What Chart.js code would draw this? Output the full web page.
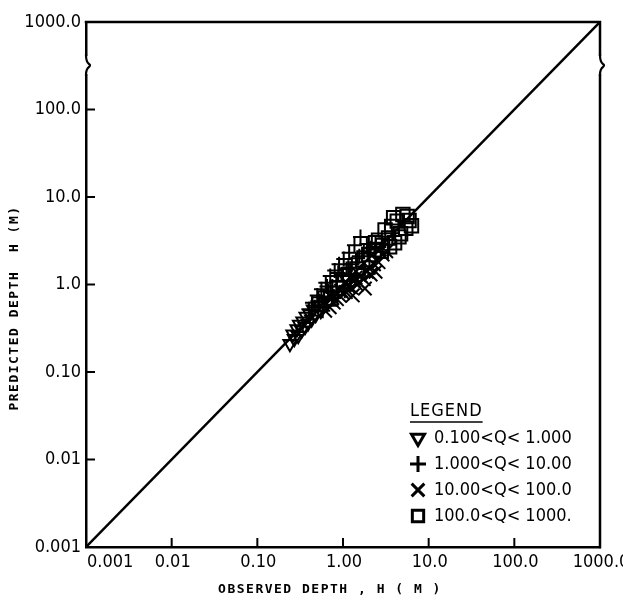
<!DOCTYPE html>
<html>
<head>
<meta charset="utf-8">
<script src="https://cdn.jsdelivr.net/npm/chart.js@4/dist/chart.umd.min.js"></script>
<style>
html,body{margin:0;padding:0;background:#fff;}
#wrap{width:623px;height:603px;position:relative;}
</style>
</head>
<body>
<div id="wrap"><canvas id="c"></canvas></div>
<script>
// ---- data ----
const tickValues = [0.001, 0.01, 0.1, 1, 10, 100, 1000];
const xTickLabels = ["0.001", "0.01", "0.10", "1.00", "10.0", "100.0", "1000.0"];
const yTickLabels = ["0.001", "0.01", "0.10", "1.0", "10.0", "100.0", "1000.0"];

const legendTitle = "LEGEND";
const seriesNames = ["0.100<Q< 1.000", "1.000<Q< 10.00", "10.00<Q< 100.0", "100.0<Q< 1000."];

// 0.100 < Q < 1.000 (triangles)
const triObs  = [0.24,0.26,0.27,0.29,0.30,0.31,0.33,0.34,0.36,0.37,0.39,0.41,0.43,0.45,0.48,0.51,0.55,0.60,0.66];
const triPred = [0.21,0.27,0.24,0.31,0.26,0.35,0.30,0.38,0.33,0.43,0.36,0.46,0.40,0.52,0.45,0.58,0.50,0.66,0.62];
// 1.000 < Q < 10.00 (plus)
const plusObs  = [0.40,0.44,0.47,0.50,0.53,0.56,0.60,0.63,0.67,0.71,0.75,0.80,0.85,0.90,0.96,1.02,1.10,1.18,1.27,1.36,1.48,1.60,1.75,1.90,2.10,2.40,0.58,0.78,1.05,1.40,1.80,0.65,0.88,1.15,1.55,2.00,0.52,0.72,1.25];
const plusPred = [0.52,0.62,0.55,0.75,0.64,0.88,0.72,1.05,0.84,1.25,0.95,1.45,1.10,1.70,1.30,1.95,1.50,2.30,1.70,2.80,2.00,3.50,2.40,2.90,2.60,3.00,0.50,0.70,0.85,1.20,1.50,0.95,1.35,1.55,2.10,2.30,0.58,0.82,1.30];
// 10.00 < Q < 100.0 (x)
const xObs  = [0.62,0.70,0.78,0.85,0.92,1.00,1.08,1.15,1.25,1.35,1.45,1.60,1.75,1.90,2.10,2.30,2.60,2.90,3.20,1.30,1.80,2.40,0.75,0.95,1.10,1.55,2.00,2.70,1.40];
const xPred = [0.50,0.55,0.62,0.68,0.74,0.80,0.82,0.95,0.92,1.10,1.00,1.25,1.15,1.40,1.30,1.70,1.80,2.20,2.40,0.75,0.90,1.40,0.70,0.85,1.05,1.05,1.55,2.50,1.20];
// 100.0 < Q < 1000. (squares)
const sqObs  = [0.52,0.62,0.72,0.85,1.00,1.20,1.45,1.70,2.00,2.30,2.60,2.90,3.10,3.40,3.70,4.00,4.30,4.70,5.00,5.40,5.90,6.30,2.80,3.50,4.50,3.90,5.60,2.40];
const sqPred = [0.60,0.70,0.68,0.90,1.05,1.30,1.50,1.90,2.20,2.50,3.20,2.80,4.20,3.40,4.60,3.00,5.30,3.80,6.30,4.40,5.40,4.70,2.40,2.70,3.50,5.80,6.00,3.00];

// perfect agreement line
const lineX = [0.001, 1000];
const lineY = [0.001, 1000];

const xTitle = "OBSERVED DEPTH , H ( M )";
const yTitle = "PREDICTED DEPTH  H (M)";

// ---- build ----
const pts = (a, b) => a.map((v, i) => ({x: v, y: b[i]}));
const FONT = "'DejaVu Sans Condensed',sans-serif";

const markerStyles = [
  {pointStyle: 'triangle', radius: 7.5, rotation: 180},
  {pointStyle: 'cross', radius: 7.5, rotation: 0},
  {pointStyle: 'crossRot', radius: 9.5, rotation: 0},
  {pointStyle: 'rect', radius: 9.5, rotation: 0}
];
const seriesData = [pts(triObs, triPred), pts(plusObs, plusPred), pts(xObs, xPred), pts(sqObs, sqPred)];

const datasets = [{
  type: 'line',
  label: 'line',
  data: pts(lineX, lineY),
  borderColor: '#000',
  borderWidth: 2.5,
  pointRadius: 0,
  fill: false
}];
seriesNames.forEach((n, i) => {
  datasets.push({
    type: 'scatter',
    label: n,
    data: seriesData[i],
    pointStyle: markerStyles[i].pointStyle,
    pointRadius: markerStyles[i].radius,
    pointRotation: markerStyles[i].rotation,
    pointBorderColor: '#000',
    pointBackgroundColor: 'rgba(0,0,0,0)',
    pointBorderWidth: 2,
    borderColor: '#000',
    backgroundColor: 'rgba(0,0,0,0)'
  });
});

function axisBreak(ctx, xPos, yTop, yBot, dir) {
  ctx.save();
  ctx.fillStyle = '#fff';
  ctx.fillRect(xPos - 3, yTop, 6, yBot - yTop);
  ctx.strokeStyle = '#000';
  ctx.lineWidth = 2.2;
  ctx.beginPath();
  ctx.moveTo(xPos, yTop - 1);
  ctx.quadraticCurveTo(xPos, yTop + 6, xPos + dir * 3, yTop + 8);
  ctx.quadraticCurveTo(xPos + dir * 5, yTop + 9, xPos + dir * 3, yTop + 11);
  ctx.quadraticCurveTo(xPos, yTop + 13, xPos, yBot + 1);
  ctx.stroke();
  ctx.restore();
}

const decorPlugin = {
  id: 'decor',
  afterDraw(chart) {
    const {ctx, chartArea: a, scales: {x, y}} = chart;
    ctx.save();
    ctx.strokeStyle = '#000';
    ctx.lineWidth = 2.5;
    ctx.lineCap = 'square';
    // frame top & right
    ctx.beginPath();
    ctx.moveTo(a.left, a.top);
    ctx.lineTo(a.right, a.top);
    ctx.lineTo(a.right, a.bottom);
    ctx.stroke();
    // axis breaks near the top
    axisBreak(ctx, a.left, 56, 74, 1);
    axisBreak(ctx, a.right, 56, 74, 1);
    // inward ticks
    ctx.lineWidth = 2;
    ctx.lineCap = 'butt';
    tickValues.slice(1, -1).forEach(v => {
      const px = x.getPixelForValue(v);
      ctx.beginPath(); ctx.moveTo(px, a.bottom); ctx.lineTo(px, a.bottom - 9); ctx.stroke();
      const py = y.getPixelForValue(v);
      ctx.beginPath(); ctx.moveTo(a.left, py); ctx.lineTo(a.left + 9, py); ctx.stroke();
    });
    ctx.fillStyle = '#000';
    // x tick labels
    ctx.font = "18px " + FONT;
    ctx.textBaseline = 'top';
    tickValues.forEach((v, i) => {
      const px = x.getPixelForValue(v);
      if (i === 0) { ctx.textAlign = 'left'; ctx.fillText(xTickLabels[i], px + 1, a.bottom + 6); }
      else { ctx.textAlign = 'center'; ctx.fillText(xTickLabels[i], px + 1, a.bottom + 6); }
    });
    // axis titles
    ctx.font = "bold 13px 'DejaVu Sans Mono', monospace";
    ctx.letterSpacing = '1.5px';
    ctx.textAlign = 'center';
    ctx.textBaseline = 'middle';
    ctx.fillText(xTitle, 330, 590);
    ctx.save();
    ctx.translate(15, 308);
    ctx.rotate(-Math.PI / 2);
    ctx.fillText(yTitle, 0, 0);
    ctx.restore();
    // legend
    ctx.font = "18px " + FONT;
    ctx.letterSpacing = '1px';
    ctx.textAlign = 'left';
    ctx.textBaseline = 'middle';
    ctx.fillText(legendTitle, 410, 411);
    const w = ctx.measureText(legendTitle).width;
    ctx.letterSpacing = '0px';
    ctx.lineWidth = 1.5;
    ctx.beginPath(); ctx.moveTo(410, 422); ctx.lineTo(410 + w, 422); ctx.stroke();
    const rows = [438, 464, 490, 516];
    const legRad = [7.5, 8, 9, 8];
    seriesNames.forEach((n, i) => {
      ctx.save();
      ctx.fillStyle = 'rgba(0,0,0,0)';
      ctx.strokeStyle = '#000';
      ctx.lineWidth = 3;
      Chart.helpers.drawPoint(ctx, {
        pointStyle: markerStyles[i].pointStyle,
        rotation: markerStyles[i].rotation,
        radius: legRad[i],
        borderWidth: 3
      }, 418, rows[i]);
      ctx.restore();
      ctx.fillStyle = '#000';
      ctx.fillText(n, 434, rows[i]);
    });
    ctx.restore();
  }
};

new Chart(document.getElementById('c'), {
  data: {datasets},
  plugins: [decorPlugin],
  options: {
    responsive: true,
    maintainAspectRatio: false,
    animation: false,
    layout: {padding: {top: 22, right: 23, left: 0, bottom: 0}},
    plugins: {legend: {display: false}, tooltip: {enabled: false}},
    scales: {
      x: {
        type: 'logarithmic',
        min: 0.001, max: 1000,
        afterBuildTicks: s => { s.ticks = tickValues.map(v => ({value: v})); },
        afterFit: s => { s.height = 56; s.paddingLeft = 0; s.paddingRight = 0; },
        grid: {display: false, drawTicks: false},
        border: {display: true, color: '#000', width: 2.5},
        ticks: {display: false, autoSkip: false, maxRotation: 0, minRotation: 0}
      },
      y: {
        type: 'logarithmic',
        min: 0.001, max: 1000,
        afterBuildTicks: s => { s.ticks = tickValues.map(v => ({value: v})); },
        afterFit: s => { s.width = 86; s.paddingTop = 0; s.paddingBottom = 0; },
        grid: {display: false, drawTicks: false},
        border: {display: true, color: '#000', width: 2.5},
        ticks: {
          autoSkip: false, padding: 5,
          color: '#000', font: {family: FONT, size: 18},
          callback: v => yTickLabels[tickValues.indexOf(v)] ?? ''
        }
      }
    }
  }
});
</script>
</body>
</html>
